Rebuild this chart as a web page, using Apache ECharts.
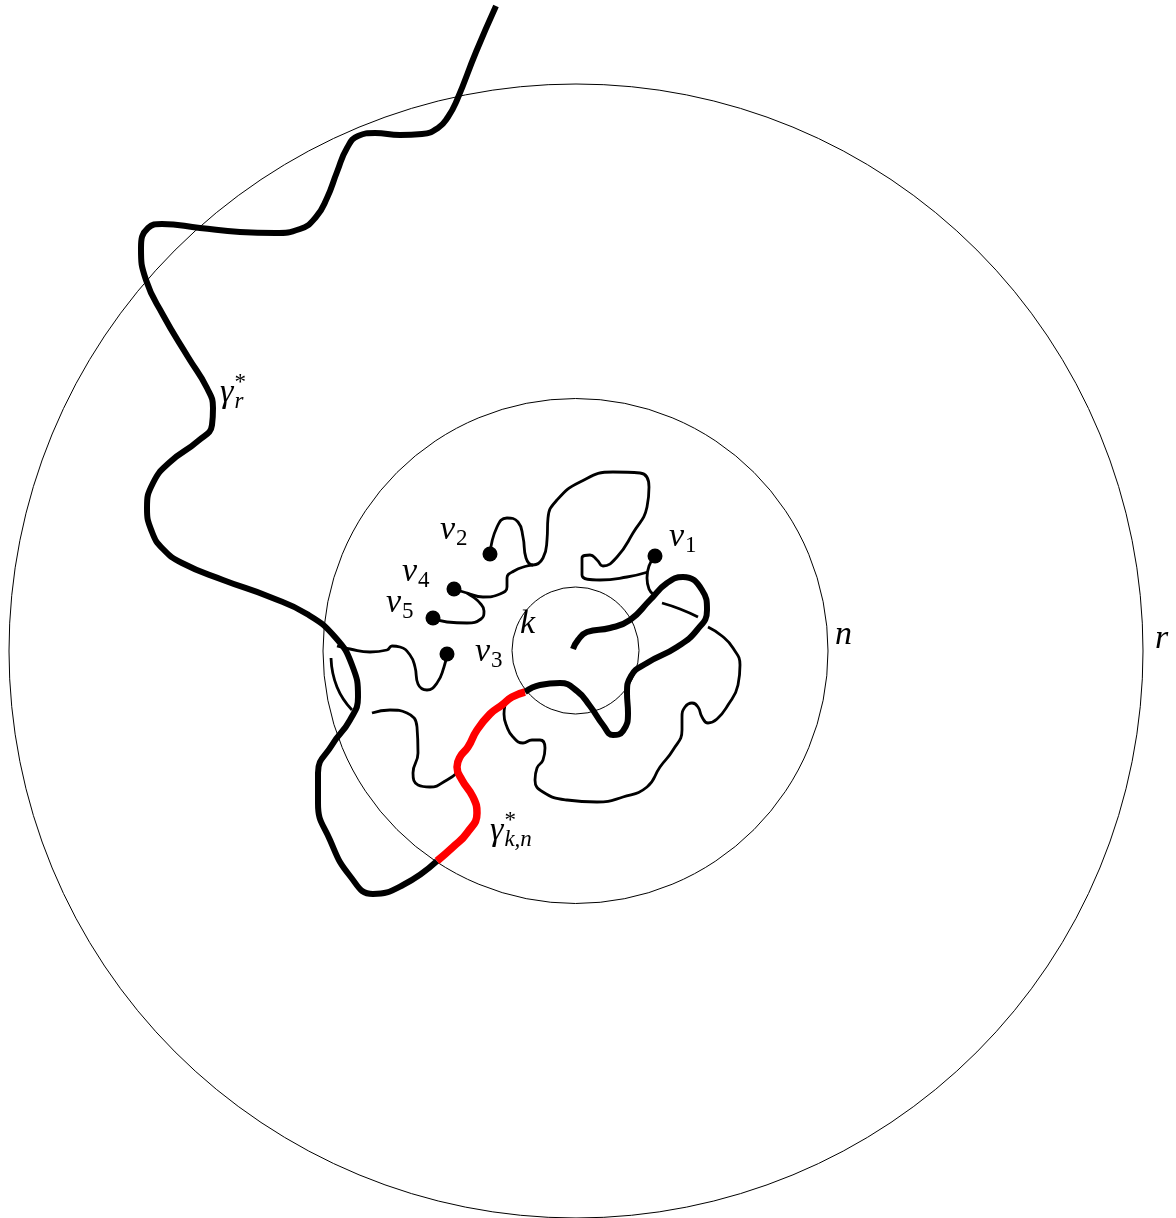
<!DOCTYPE html>
<html><head><meta charset="utf-8">
<script src="https://cdn.jsdelivr.net/npm/echarts@6/dist/echarts.min.js"></script>
<style>html,body{margin:0;padding:0;background:#fff}#c{width:1176px;height:1218px}</style>
</head><body><div id="c"></div>
<script>
// ---- circles (centre, radius) ----
const circleCenters = [[576, 651], [575.5, 651], [575.5, 650.5]];
const circleRadii = [567, 252.5, 63.5];

// ---- thick path gamma*_r : black head, red piece gamma*_{k,n}, black tail ----
const gammaHead = [[496,6],[476,52],[457,100],[448,117],[438,128],[422,134],[400,135],[375,133],[358,136],[347,148],[337,172],[327,198],[316,217],[300,229],[275,233],[240,232],[200,228],[162,224],[148,228],[141,248],[146,280],[163,315],[188,357],[207,388],[213,408],[212,425],[198,441],[170,462],[153,483],[147,508],[152,532],[163,549],[182,563],[223,580],[270,597],[307,614],[335,637],[352,665],[358,697],[350,720],[332,745],[318,773],[318,803],[330,840],[350,876],[373,894],[403,885],[437,861]];
const gammaKN = [[437,861],[453,847],[467,833],[477,813],[473,797],[462,780],[457,767],[460,757],[468,747],[477,730],[490,714],[502,705],[512,697],[525,692]];
const gammaTail = [[525,692],[540,685],[560,683],[577,691],[590,706],[603,725],[613,735],[623,731],[628,713],[627,693],[631,676],[647,663],[677,647],[697,630],[707,610],[702,590],[683,577],[667,583],[650,600],[630,620],[610,628],[587,632],[578,640],[573,649]];

// ---- thin clusters ----
const curveV2 = [[490,554],[497,527],[507,518],[518,522],[523,537],[526,558],[533,565],[543,558],[547,540],[548,518],[557,500],[580,482],[613,472],[640,473],[649,487],[647,507],[633,533],[617,557],[603,566],[597,560],[590,555],[582,558],[582,575],[600,580],[627,577],[648,572]];
const curveV1 = [[655,556],[649,566],[647,578],[649,589],[654,595]];
const curveArcA = [[662,603],[680,609],[698,617]];
const curveArcB = [[708,627],[722,636],[733,648],[740,665],[738,685],[728,705],[717,719],[708,723],[702,717],[698,707],[692,703],[685,707],[682,717],[682,730],[673,750],[660,767],[647,787],[623,797],[597,802],[567,800],[543,792],[535,780],[537,768],[543,760],[545,748],[540,740],[532,740],[523,743],[513,737],[507,727],[504,714],[505,705]];
const curveV4 = [[454,589],[467,593],[483,597],[500,594],[507,587],[507,578],[514,571],[527,566],[533,565]];
const curveV5 = [[433,618],[447,622],[467,623],[481,619],[484,611],[479,602],[473,597],[467,593]];
const curveV3 = [[447,654],[444,667],[437,683],[427,690],[418,684],[415,667],[410,655],[400,647],[392,646],[387,650],[370,652],[350,649],[337,646]];
const curveLeftA = [[331,658],[337,687],[352,710]];
const curveLeftB = [[372,713],[390,710],[407,713],[417,727],[418,753],[413,773],[418,785],[430,787],[447,780],[458,772]];

// ---- vertices v1..v5 ----
const vertices = [[655,556],[490,554],[447,654],[454,589],[433,618]];

// ---- labels ----
const labelBase = ['v','v','v','v','v','k','n','r','γ','γ'];
const labelSub  = ['1','2','3','4','5','','','','r','k,n'];
const labelSup  = ['','','','','','','','','*','*'];
const labelAnchors = [[669,539],[440,532],[475,654],[402,574],[386,605],[520,626],[835,637],[1155,641],[220,395],[490,833]];

const thinCurves = [curveV2, curveV1, curveArcA, curveArcB, curveV4, curveV5, curveV3, curveLeftA, curveLeftB];

const FAMILY = 'Liberation Serif';
const BASE_SIZE = 34, SUB_SIZE = 23;
const mctx = document.createElement('canvas').getContext('2d');
function textW(t, size, italic) { mctx.font = (italic ? 'italic ' : '') + size + 'px "' + FAMILY + '"'; return mctx.measureText(t).width; }

const chart = echarts.init(document.getElementById('c'), null, {renderer: 'canvas'});

const series = [];
series.push({
  type: 'custom', name: 'circles', silent: true, z: 1,
  data: circleCenters.map((c, i) => [c[0], c[1], circleRadii[i]]),
  renderItem(params, api) {
    const p = api.coord([api.value(0), api.value(1)]);
    const r = api.size([api.value(2), 0])[0];
    return {type: 'circle', shape: {cx: p[0], cy: p[1], r: r}, style: {fill: 'none', stroke: '#000', lineWidth: 1}};
  }
});
thinCurves.forEach((c, i) => series.push({
  type: 'line', name: 'thin' + i, data: c, smooth: 0.5, symbol: 'none', z: 2,
  lineStyle: {color: '#000', width: 2.8, cap: 'butt', join: 'round'}, silent: true
}));
series.push({type: 'line', name: 'gammaHead', data: gammaHead, smooth: 0.5, symbol: 'none', z: 3,
  lineStyle: {color: '#000', width: 6, cap: 'butt', join: 'round'}, silent: true});
series.push({type: 'line', name: 'gammaTail', data: gammaTail, smooth: 0.5, symbol: 'none', z: 3,
  lineStyle: {color: '#000', width: 6, cap: 'butt', join: 'round'}, silent: true});
series.push({type: 'line', name: 'gammaKN', data: gammaKN, smooth: 0.5, symbol: 'none', z: 4,
  lineStyle: {color: '#ff0000', width: 7.5, cap: 'butt', join: 'round'}, silent: true});
series.push({type: 'scatter', name: 'vertices', data: vertices, symbol: 'circle', symbolSize: 15, z: 5,
  itemStyle: {color: '#000', opacity: 1}, silent: true});

function txt(x, y, s, size, italic) {
  return {type: 'text', x: x, y: y, style: {text: s, fontFamily: FAMILY, fontSize: size,
    fontStyle: italic ? 'italic' : 'normal', fill: '#000', align: 'left', verticalAlign: 'middle'}};
}
series.push({
  type: 'custom', name: 'labels', silent: true, z: 6,
  data: labelAnchors,
  renderItem(params, api) {
    const i = params.dataIndex;
    const p = api.coord([api.value(0), api.value(1)]);
    const bw = textW(labelBase[i], BASE_SIZE, true);
    const children = [txt(p[0], p[1] - 2, labelBase[i], BASE_SIZE, true)];
    if (labelSub[i]) {
      const isDigit = /^[0-9]+$/.test(labelSub[i]);
      children.push(txt(p[0] + bw + 1, p[1] + 7, labelSub[i], SUB_SIZE, !isDigit));
    }
    if (labelSup[i]) {
      children.push(txt(p[0] + bw + 1, p[1] - 12, labelSup[i], SUB_SIZE, false));
    }
    return {type: 'group', children};
  }
});

chart.setOption({
  animation: false,
  backgroundColor: '#fff',
  grid: {left: 0, right: 0, top: 0, bottom: 0, containLabel: false},
  xAxis: {type: 'value', min: 0, max: 1176, show: false},
  yAxis: {type: 'value', min: 0, max: 1218, inverse: true, show: false},
  series
});
</script></body></html>
